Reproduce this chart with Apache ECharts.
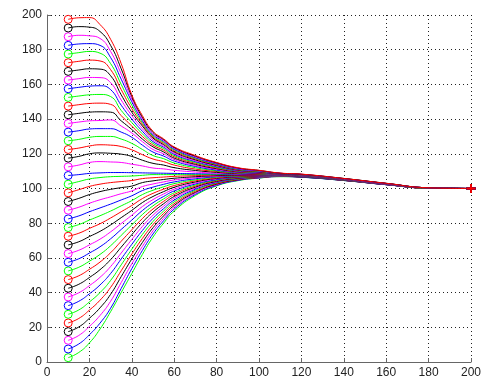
<!DOCTYPE html>
<html>
<head>
<meta charset="utf-8">
<script src="https://cdn.jsdelivr.net/npm/echarts@6/dist/echarts.min.js"></script>
<style>html,body{margin:0;padding:0;background:#fff}#c{width:485px;height:383px}</style>
</head>
<body>
<div id="c"></div>
<script>
// x positions of the samples along every curve
const xValues = [10,15,20,25,30,35,40,45,50,55,60,70,80,90,100,110,120,140,160,180,200];
// values of the 40 curves (bottom to top) at each x position
const y10 = [2.5,7.5,12.5,17.5,22.5,27.5,32.5,37.5,42.5,47.5,52.5,57.5,62.5,67.5,72.5,77.5,82.5,87.5,92.5,97.5,102.5,107.5,112.5,117.5,122.5,127.5,132.5,137.5,142.5,147.5,152.5,157.5,162.5,167.5,172.5,177.5,182.5,187.5,192.5,197.5];
const y15 = [5.5,10.4,15.3,20.2,25.1,30,35,39.9,44.8,49.7,54.6,59.5,64.4,69.3,74.2,79.2,84.2,89.2,94.3,99.3,104,108,113.5,118.5,123.3,128.3,133.3,138.3,143.3,148.3,153.3,158.3,163.3,168.3,173.3,178.3,183.3,188.3,193.3,198.4];
const y20 = [11,15.7,20.5,25.2,29.9,34.6,39.3,44,48.7,53.4,58.1,62.8,67.5,72.3,77,81.8,86.6,91.5,96.5,101.2,105.5,108.7,115,120,124.5,129.5,134.3,139,144,149,154,159,164,169,174,179,183.5,188,193,198.5];
const y25 = [19,22.4,26.8,31.2,35.6,40,44.4,48.8,53.2,57.6,62,66.4,70.8,75.3,79.7,84.3,88.8,93.5,98.2,102.5,106.3,109,115.5,120.5,125.2,130,134.5,139.2,144.2,149.2,154.2,159.2,163.9,168.8,173.5,178,182.5,186.5,190.5,194.5];
const y30 = [29,31,35,39,43,47,51,55,59,63,67,71,75,79,83,87,91,95.2,99.5,103.4,106.8,109.2,115.3,120.3,125,130,134.5,139.5,144,148.5,153,157,161,165,168.5,172,175.5,179,182.5,186];
const y35 = [40,42.4,45.8,49.2,52.6,56,59.4,62.8,66.2,69.6,73,76.4,79.8,83.2,86.6,90,93.4,97,100.5,104,107,109.2,115,119.8,124.2,128.5,132.5,136,139,142,145,148,151,154,157,160,163,166,169,172];
const y40 = [51,53.8,56.6,59.4,62.2,65,67.8,70.6,73.4,76.2,79,81.8,84.6,87.4,90.2,93,95.8,98.6,101.4,104.6,107.2,109.1,114,118.5,122.3,126,129.5,132,134,136,138,140,142,144,146,148,150,151.5,153,154];
const y45 = [62,64.3,66.6,68.9,71.2,73.5,75.8,78.1,80.4,82.7,85,87.3,89.6,91.9,94.2,96.5,98.8,101.1,103.4,105.7,107.6,109,113,116.3,119.5,122.5,125,127,128.5,130,131.5,133,134.5,136,137,138,139,140,141,142];
const y50 = [72,73.8,75.6,77.4,79.2,81,82.8,84.6,86.4,88.2,90,91.8,93.6,95.4,97.2,99,100.8,102.6,104.4,106.2,108,108.9,111.8,114.5,117,119,121,122.5,124,125,126,127,128,129,129.6,130.3,131,131.6,132.3,133];
const y55 = [80,81.4,82.8,84.2,85.6,87,88.4,89.8,91.2,92.6,94,95.4,96.8,98.2,99.6,101,102.4,103.8,105.2,106.6,108,108.8,111.3,113.5,115.5,117.2,118.7,120,121.1,122.1,123,123.8,124.6,125.3,126,126.6,127.2,127.7,128.2,128.6];
const y60 = [87,88.1,89.1,90.2,91.2,92.3,93.3,94.4,95.4,96.5,97.5,98.6,99.6,100.7,101.7,102.8,103.8,104.9,105.9,107,108,108.7,110.5,112,113.5,114.7,115.8,116.7,117.5,118.3,119,119.7,120.3,121,121.6,122.2,122.7,123.2,123.6,124];
const y70 = [96,96.6,97.2,97.8,98.4,99,99.6,100.2,100.8,101.4,102,102.6,103.2,103.8,104.4,105,105.6,106.2,106.8,107.4,108,108.5,109.5,110.4,111.2,112,112.7,113.3,113.9,114.5,115,115.5,116,116.5,117,117.4,117.8,118.2,118.6,119];
const y80 = [101.5,101.8,102.2,102.5,102.8,103.2,103.5,103.8,104.1,104.5,104.8,105.1,105.5,105.8,106.1,106.5,106.8,107.1,107.4,107.8,108.1,108.4,108.8,109.3,109.8,110.2,110.6,111,111.4,111.8,112.2,112.6,113,113.3,113.6,113.9,114.2,114.5,114.8,115];
const y90 = [104.5,104.7,104.9,105.0,105.2,105.4,105.6,105.8,105.9,106.1,106.3,106.5,106.7,106.8,107.0,107.2,107.4,107.6,107.7,107.9,108.1,108.2,108.4,108.6,108.8,109,109.2,109.4,109.6,109.8,110,110.2,110.4,110.6,110.8,111,111.2,111.5,111.8,112];
const y100 = [106,106.1,106.2,106.3,106.4,106.5,106.6,106.7,106.8,106.9,107,107.1,107.2,107.3,107.4,107.5,107.6,107.7,107.8,107.9,108,108,108.1,108.2,108.3,108.5,108.6,108.8,108.9,109,109.2,109.3,109.5,109.6,109.8,109.9,110.1,110.2,110.4,110.5];
const y110 = [106.8,106.9,106.9,107,107,107.1,107.1,107.2,107.2,107.3,107.3,107.4,107.4,107.5,107.5,107.6,107.6,107.7,107.7,107.8,107.8,107.8,107.9,108,108,108.1,108.2,108.2,108.3,108.3,108.4,108.4,108.5,108.5,108.6,108.7,108.7,108.8,108.8,108.9];
const y120 = [106.5,106.5,106.6,106.6,106.7,106.7,106.7,106.8,106.8,106.9,106.9,106.9,107,107,107.1,107.1,107.1,107.2,107.2,107.3,107.3,107.3,107.4,107.5,107.5,107.6,107.6,107.7,107.7,107.8,107.8,107.9,107.9,108,108,108.1,108.1,108.2,108.2,108.3];
const y140 = [104.6,104.6,104.7,104.7,104.7,104.8,104.8,104.8,104.8,104.9,104.9,104.9,105,105,105,105,105.1,105.1,105.1,105.2,105.2,105.2,105.3,105.3,105.3,105.4,105.4,105.4,105.5,105.5,105.5,105.5,105.6,105.6,105.6,105.7,105.7,105.7,105.8,105.8];
const y160 = [102.2,102.2,102.2,102.2,102.3,102.3,102.3,102.3,102.3,102.4,102.4,102.4,102.4,102.4,102.5,102.5,102.5,102.5,102.6,102.6,102.6,102.6,102.7,102.7,102.7,102.7,102.7,102.7,102.8,102.8,102.8,102.8,102.8,102.8,102.9,102.9,102.9,102.9,103,103];
const y180 = [100.2,100.2,100.2,100.2,100.2,100.2,100.2,100.2,100.2,100.2,100.2,100.2,100.2,100.2,100.2,100.2,100.2,100.2,100.2,100.2,100.2,100.3,100.3,100.3,100.3,100.3,100.3,100.3,100.3,100.3,100.3,100.4,100.4,100.4,100.4,100.4,100.4,100.4,100.4,100.4];
const y200 = [100,100,100,100,100,100,100,100,100,100,100,100,100,100,100,100,100,100,100,100,100,100,100,100,100,100,100,100,100,100,100,100,100,100,100,100,100,100,100,100];
const axisTicks = [0,20,40,60,80,100,120,140,160,180,200];
const colorCycle = ['#00ff00','#0000ff','#ff00ff','#000000','#ff0000'];

const columns = [y10,y15,y20,y25,y30,y35,y40,y45,y50,y55,y60,y70,y80,y90,y100,y110,y120,y140,y160,y180,y200];
const plusPath = 'path://M4,0h2v4h4v2h-4v4h-2v-4h-4v-2h4z';
const last = xValues.length - 1;

const series = y10.map((_, c) => {
  const color = colorCycle[c % colorCycle.length];
  return {
    type: 'line',
    smooth: 0.5,
    symbol: 'none',
    showSymbol: true,
    silent: true,
    lineStyle: { width: 1, color: color },
    itemStyle: { color: color },
    data: xValues.map((x, p) => {
      const item = { value: [x, columns[p][c]] };
      if (p === 0) {
        item.symbol = 'circle';
        item.symbolSize = 8;
        item.itemStyle = { color: 'rgba(0,0,0,0)', borderColor: color, borderWidth: 1 };
      } else if (p === last) {
        item.symbol = plusPath;
        item.symbolSize = 9;
        item.itemStyle = { color: color };
      }
      return item;
    })
  };
});

const axisCommon = {
  type: 'value',
  min: axisTicks[0],
  max: axisTicks[axisTicks.length - 1],
  interval: axisTicks[1] - axisTicks[0],
  axisLine: { show: true, onZero: false, lineStyle: { color: '#666', width: 1 } },
  axisTick: { show: true, inside: true, length: 4, lineStyle: { color: '#666' } },
  axisLabel: { color: '#222', fontSize: 12, margin: 5, fontFamily: 'Liberation Sans, Arial, sans-serif' },
  splitLine: { show: true, lineStyle: { color: '#222', width: 1, type: [1, 3] } }
};

const chart = echarts.init(document.getElementById('c'), null, { renderer: 'canvas' });
chart.setOption({
  backgroundColor: '#fff',
  animation: false,
  grid: { left: 47, right: 14, top: 15, bottom: 21, containLabel: false },
  xAxis: axisCommon,
  yAxis: axisCommon,
  series: series
});
</script>
</body>
</html>
